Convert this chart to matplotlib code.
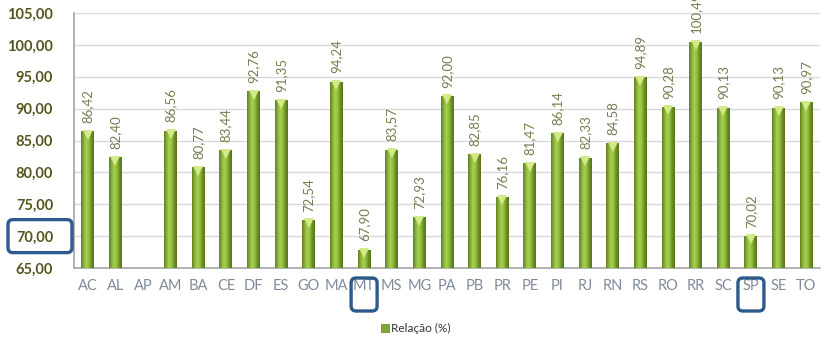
import numpy as np
import matplotlib
matplotlib.use("Agg")
import matplotlib.pyplot as plt
from matplotlib.patches import FancyBboxPatch, Rectangle
from matplotlib.colors import LinearSegmentedColormap
from matplotlib.transforms import offset_copy

plt.rcParams['font.family'] = ['Lato', 'DejaVu Sans']

states = ["AC", "AL", "AP", "AM", "BA", "CE", "DF", "ES", "GO", "MA", "MT", "MS", "MG", "PA",
          "PB", "PR", "PE", "PI", "RJ", "RN", "RS", "RO", "RR", "SC", "SP", "SE", "TO"]
relacao = [86.42, 82.40, None, 86.56, 80.77, 83.44, 92.76, 91.35, 72.54, 94.24, 67.90, 83.57,
           72.93, 92.00, 82.85, 76.16, 81.47, 86.14, 82.33, 84.58, 94.89, 90.28, 100.49, 90.13,
           70.02, 90.13, 90.97]
y_ticks = [65, 70, 75, 80, 85, 90, 95, 100, 105]
highlight_states = ["MT", "SP"]
highlight_tick = 70

W, H = 824, 342
fig = plt.figure(figsize=(W / 100, H / 100), dpi=100)
ax = fig.add_axes([74 / W, (H - 268) / H, (820 - 74) / W, (268 - 13) / H])

ymin, ymax = 65, 105
ax.set_xlim(-0.5, len(states) - 0.5)
ax.set_ylim(ymin, ymax)

bar_w = 0.47
shade = LinearSegmentedColormap.from_list(
    "cyl", ["#5f7f22", "#86b036", "#a8d052", "#94c03e", "#6d9128", "#557419"])
grad = np.linspace(0, 1, 64).reshape(1, -1)

label_color = "#7a7a50"
for i, v in enumerate(relacao):
    if v is None:
        continue
    rect = Rectangle((i - bar_w / 2, ymin), bar_w, v - ymin, facecolor="#8ab53a",
                     edgecolor="none", zorder=3)
    ax.add_patch(rect)
    im = ax.imshow(grad, cmap=shade, aspect="auto", zorder=3.5,
                   extent=(i - bar_w / 2, i + bar_w / 2, ymin, v))
    im.set_clip_path(rect)
    # lighter bevel at the top of each column
    ax.plot([i], [v], marker="v", markersize=7.5, color="#d4ea8a",
            markeredgewidth=0, zorder=4,
            transform=offset_copy(ax.transData, fig=fig, x=0, y=-3.5, units="dots"))
    ax.annotate(f"{v:.2f}".replace(".", ","), (i, v), xytext=(0, 6),
                textcoords="offset points", rotation=90, ha="center", va="bottom",
                fontsize=9.5, color=label_color, annotation_clip=False, zorder=5)

ax.set_xticks(range(len(states)))
ax.set_xticklabels(states, fontsize=10.5, color="#808a9a")
ax.set_yticks(y_ticks)
ax.set_yticklabels([f"{t:.2f}".replace(".", ",") for t in y_ticks], fontsize=10.5,
                   fontweight="bold", color="#55551f")
ax.tick_params(axis="both", length=0)
ax.tick_params(axis="x", pad=8)
ax.tick_params(axis="y", pad=15)

ax.grid(axis="y", color="#d9d9d9", linewidth=1, zorder=0)
ax.set_axisbelow(True)
for s in ["top", "right"]:
    ax.spines[s].set_visible(False)
for s in ["left", "bottom"]:
    ax.spines[s].set_color("#a6a6a6")
    ax.spines[s].set_linewidth(1.2)

# legend
fig.patches.append(Rectangle((381 / W, (H - 332) / H), 8 / W, 8 / H, facecolor="#7fa832",
                             edgecolor="#5d7d22", linewidth=0.5, transform=fig.transFigure))
fig.text(391 / W, (H - 328) / H, "Relação (%)", fontsize=8.5, color="#333333",
         ha="left", va="center")

# rounded highlight frames, drawn on a pixel-unit overlay
ov = fig.add_axes([0, 0, 1, 1], zorder=20)
ov.set_xlim(0, W)
ov.set_ylim(0, H)
ov.axis("off")
box_color = "#2e5a8c"
for st in highlight_states:
    px, _ = ax.transData.transform((states.index(st), ymin))
    ov.add_patch(FancyBboxPatch((px - 13, H - 311), 26, 33,
                                boxstyle="round,pad=0,rounding_size=5",
                                facecolor="none", edgecolor=box_color, linewidth=2.4))
_, py = ax.transData.transform((0, highlight_tick))
ov.add_patch(FancyBboxPatch((8, py - 16.5), 64, 33,
                            boxstyle="round,pad=0,rounding_size=5",
                            facecolor="none", edgecolor=box_color, linewidth=2.4))

fig.savefig("out.png", dpi=100)
